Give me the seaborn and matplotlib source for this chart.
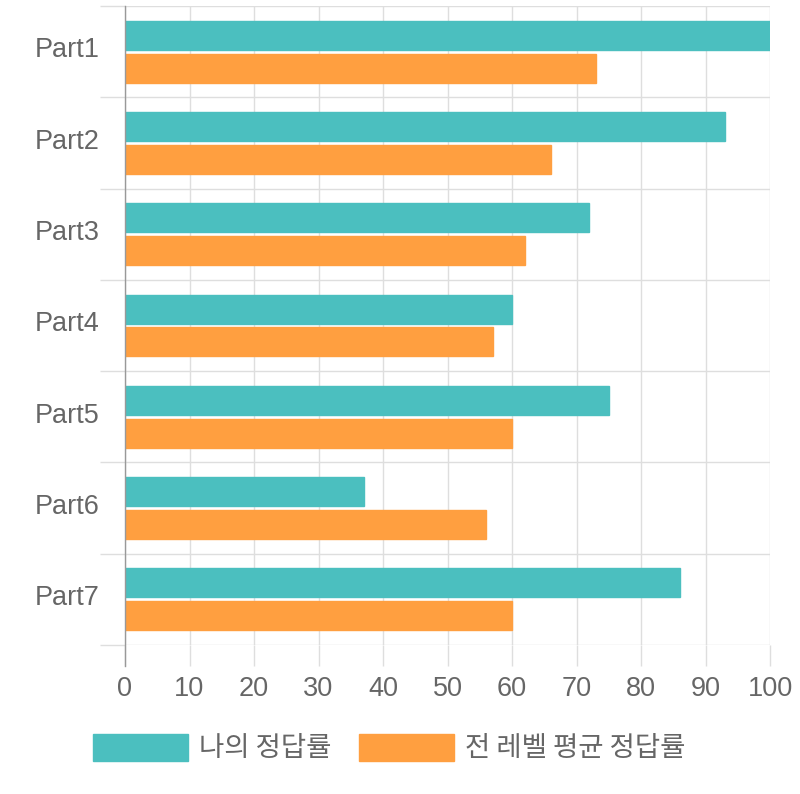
import matplotlib
matplotlib.use("Agg")
import matplotlib.pyplot as plt
from matplotlib.patches import Patch
import matplotlib.transforms as mtransforms
import seaborn as sns
import pandas as pd
import numpy as np

parts = ["Part1", "Part2", "Part3", "Part4", "Part5", "Part6", "Part7"]
my_rate = [100, 93, 72, 60, 75, 37, 86]
avg_rate = [73, 66, 62, 57, 60, 56, 60]
series_names = ["나의 정답률", "전 레벨 평균 정답률"]
x_ticks = [0, 10, 20, 30, 40, 50, 60, 70, 80, 90, 100]

teal = "#4BBFBF"
orange = "#FF9F40"

df = pd.DataFrame({
    "part": parts * 2,
    "value": my_rate + avg_rate,
    "series": [series_names[0]] * len(parts) + [series_names[1]] * len(parts),
})

sns.set_theme(style="white")
plt.rcParams["font.family"] = ["Liberation Sans", "Noto Sans CJK KR", "DejaVu Sans"]

fig = plt.figure(figsize=(8, 7.94), dpi=100)
ax = fig.add_axes([125 / 800, 1 - 645 / 794, (770 - 125) / 800, (645 - 6) / 794])

sns.barplot(data=df, y="part", x="value", hue="series", orient="h",
            palette=[teal, orange], width=0.72, gap=0.12, ax=ax, legend=False,
            saturation=1)
for p in ax.patches:
    p.set_edgecolor(p.get_facecolor())
    p.set_linewidth(1)

grid_c = "#dedede"
ax.set_xlim(0, 100)
ax.set_ylim(len(parts) - 0.5, -0.5)
ax.set_xticks(x_ticks)
ax.set_xticklabels([str(t) for t in x_ticks])
ax.set_yticks(range(len(parts)))
ax.set_yticklabels(parts)
ax.set_yticks(np.arange(-0.5, len(parts), 1.0), minor=True)
ax.set_xlabel("")
ax.set_ylabel("")

ax.grid(False)
ax.xaxis.grid(True, which="major", color=grid_c, linewidth=1)
ax.yaxis.grid(True, which="minor", color=grid_c, linewidth=1)
ax.set_axisbelow(True)

ax.tick_params(axis="x", which="major", length=15, width=1, color=grid_c,
               pad=7, labelsize=19.5, labelcolor="#666666", bottom=True)
ax.tick_params(axis="y", which="major", length=0, pad=18.5,
               labelsize=19.5, labelcolor="#666666")
ax.tick_params(axis="y", which="minor", length=18, width=1, color=grid_c, left=True)

shift = mtransforms.ScaledTranslation(0, 3 / 72, fig.dpi_scale_trans)
for lab in ax.get_yticklabels():
    lab.set_transform(lab.get_transform() + shift)

for side in ["top", "right", "bottom"]:
    ax.spines[side].set_visible(False)
ax.spines["left"].set_color("#999999")
ax.spines["left"].set_linewidth(1)
ax.spines["left"].set_bounds(len(parts) - 0.5 + 0.23, -0.5)

handles = [Patch(facecolor=teal, edgecolor=teal), Patch(facecolor=orange, edgecolor=orange)]
leg = fig.legend(handles, series_names, loc="center", bbox_to_anchor=(389 / 800, 1 - 748 / 794),
                 ncol=2, frameon=False, prop={"family": ["Noto Sans CJK KR", "DejaVu Sans"], "size": 19.8},
                 handlelength=3.45, handleheight=1.15, handletextpad=0.4, columnspacing=1.0,
                 labelcolor="#666666")

fig.savefig("out.png", dpi=100)
